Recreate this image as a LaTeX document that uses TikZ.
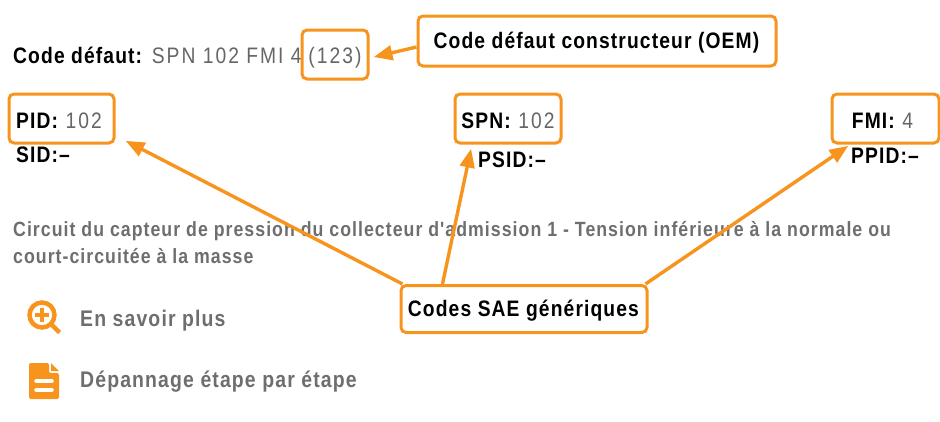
\documentclass[tikz,border=0pt]{standalone}
\usepackage{fontspec}
\setmainfont{Liberation Sans}[FakeStretch=0.86,LetterSpace=5,Ligatures=TeXOff]
\usetikzlibrary{calc,arrows}
\definecolor{codeorange}{HTML}{F7941E}
\definecolor{codegrey}{HTML}{666666}
\definecolor{infogrey}{HTML}{6E6E6E}
\newcommand\lab[1]{\textbf{#1}}
\newcommand\val[1]{\textcolor{codegrey}{\addfontfeature{LetterSpace=9}#1}}
\tikzset{
  codebox/.style={draw=codeorange, line width=3pt, rounded corners=5pt, fill=white, inner sep=0pt, text depth=0pt, font=\fontsize{22.4}{26}\selectfont},
  plain/.style={anchor=base west, inner sep=0pt, font=\fontsize{22.4}{26}\selectfont},
  info/.style={plain, text=infogrey, font=\fontsize{20.6}{24}\selectfont\bfseries},
  action/.style={plain, text=infogrey, font=\fontsize{22.6}{26}\selectfont\bfseries},
  pointer/.style={draw=codeorange, line width=3.4pt, -triangle 45}
}
\begin{document}
\begin{tikzpicture}[x=1pt,y=-1pt]
  \useasboundingbox (0,0) rectangle (940,421);

  \node
  [plain]
  (code) at (13,63) {\lab{Code défaut:} \val{SPN 102 FMI 4}};

  \node
  [plain]
  (sid) at (16,162) {\lab{SID:–}};

  \node
  [plain]
  (psid) at (478,167) {\lab{PSID:–}};

  \node
  [plain]
  (ppid) at (851,163) {\lab{PPID:–}};

  \node
  [info]
  (descone) at (13,236) {Circuit du capteur de pression du collecteur d'admission 1 - Tension inférieure à la normale ou};

  \node
  [info]
  (desctwo) at (13,263) {court-circuitée à la masse};

  \node
  [action]
  (more) at (80,326) {En savoir plus};

  \node
  [action]
  (steps) at (80,387) {Dépannage étape par étape};

  \node
  [codebox, text height=17pt, minimum width=66pt, minimum height=49pt]
  (oem) at (335,54.5) {\val{(123)}};

  \node
  [codebox, text height=19pt, minimum width=105pt, minimum height=49pt]
  (pid) at (61.5,118.5) {\lab{PID:} \val{102}\kern5pt};

  \node
  [codebox, text height=19pt, minimum width=106pt, minimum height=49pt]
  (spn) at (508,118.5) {\lab{SPN:} \val{102}};

  \node
  [codebox, text height=19pt, minimum width=107pt, minimum height=49pt]
  (fmi) at (885.5,118.5) {\lab{FMI:} \val{4}\kern6pt};

  \node
  [codebox, text height=14pt, minimum width=358pt, minimum height=50pt]
  (maker) at (597,41) {\lab{Code défaut constructeur (OEM)}};

  \node
  [codebox, text height=14pt, minimum width=246pt, minimum height=47pt]
  (sae) at (524,309) {\lab{Codes SAE génériques}};

  \coordinate (oemtip) at (374,57);
  \coordinate (pidtip) at (126,141);
  \coordinate (spntip) at (471,149);
  \coordinate (fmitip) at (848,146);

  \draw
  [pointer]
  (maker.west |- 0,47) -- (oemtip);

  \draw
  [pointer]
  ($(sae.north west) + (3,0)$) -- (pidtip);

  \draw
  [pointer]
  ($(sae.north west) + (43,0)$) -- (spntip);

  \draw
  [pointer]
  ($(sae.north east) + (-3,0)$) -- (fmitip);

  % magnifier
  \draw
  [codeorange, line width=4.5pt]
  (42,315) circle (12.5);
  \draw
  [codeorange, line width=4.5pt]
  (52,325) -- (59.5,332.5);
  \draw
  [codeorange, line width=4pt]
  (35,315) -- (49,315)
  (42,308) -- (42,322);

  % document
  \fill
  [codeorange, rounded corners=2pt]
  (29,363) -- (49,363) -- (49,373) -- (59,373) -- (59,399) -- (29,399) -- cycle;
  \fill
  [codeorange]
  (51,363) -- (59,371) -- (51,371) -- cycle;
  \draw
  [white, line width=3.5pt, line cap=round]
  (36,381) -- (52,381)
  (36,390) -- (52,390);
\end{tikzpicture}
\end{document}
